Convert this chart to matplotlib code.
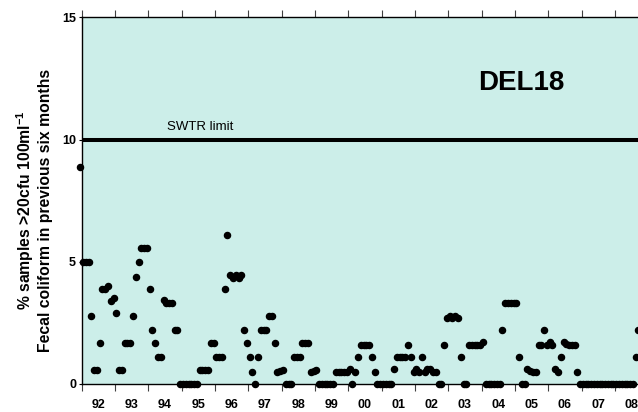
import numpy as np
import pandas as pd
import matplotlib
matplotlib.use('Agg')
import matplotlib.pyplot as plt

plt.rcParams['font.family'] = ['Liberation Sans', 'DejaVu Sans']
plt.rcParams['mathtext.fontset'] = 'custom'
plt.rcParams['mathtext.rm'] = 'Liberation Sans:bold'
plt.rcParams['mathtext.it'] = 'Liberation Sans:bold'
plt.rcParams['mathtext.bf'] = 'Liberation Sans:bold'

# % of samples >20 cfu/100ml over the previous six months, one value per month
first_month = '1991-12'
pct_1991 = [8.89]
pct_1992 = [5.0, 5.0, 5.0, 2.78, 0.56, 0.56, 1.67, 3.89, 3.89, 4.0, 3.4, 3.5]
pct_1993 = [2.89, 0.56, 0.56, 1.67, 1.67, 1.67, 2.78, 4.39, 5.0, 5.56, 5.56, 5.56]
pct_1994 = [3.89, 2.22, 1.67, 1.11, 1.11, 3.43, 3.33, 3.33, 3.33, 2.22, 2.22, 0]
pct_1995 = [0, 0, 0, 0, 0, 0, 0.56, 0.56, 0.56, 0.56, 1.67, 1.67]
pct_1996 = [1.11, 1.11, 1.11, 3.89, 6.11, 4.44, 4.33, 4.44, 4.33, 4.44, 2.22, 1.67]
pct_1997 = [1.11, 0.5, 0, 1.11, 2.22, 2.22, 2.22, 2.78, 2.78, 1.67, 0.49, 0.53]
pct_1998 = [0.57, 0, 0, 0, 1.11, 1.11, 1.11, 1.67, 1.67, 1.67, 0.49, 0.53]
pct_1999 = [0.57, 0, 0, 0, 0, 0, 0, 0.49, 0.49, 0.49, 0.49, 0.49]
pct_2000 = [0.6, 0, 0.49, 1.1, 1.6, 1.6, 1.6, 1.6, 1.1, 0.49, 0, 0]
pct_2001 = [0, 0, 0, 0, 0.6, 1.1, 1.1, 1.1, 1.1, 1.6, 1.1, 0.5]
pct_2002 = [0.6, 0.5, 1.1, 0.5, 0.6, 0.6, 0.5, 0.5, 0, 0, 1.6, 2.7]
pct_2003 = [2.78, 2.7, 2.78, 2.7, 1.1, 0, 0, 1.6, 1.6, 1.6, 1.6, 1.6]
pct_2004 = [1.7, 0, 0, 0, 0, 0, 0, 2.2, 3.3, 3.3, 3.3, 3.3]
pct_2005 = [3.3, 1.1, 0, 0, 0.6, 0.55, 0.5, 0.5, 1.6, 1.6, 2.2, 1.6]
pct_2006 = [1.7, 1.6, 0.6, 0.5, 1.1, 1.7, 1.65, 1.6, 1.6, 1.6, 0.5, 0]
pct_2007 = [0, 0, 0, 0, 0, 0, 0, 0, 0, 0, 0, 0]
pct_2008 = [0, 0, 0, 0, 0, 0, 0, 1.1, 2.2]

years = list(range(1992, 2009))
year_labels = ['%02d' % (y % 100) for y in years]
swtr_limit = 10
site = 'DEL18'

pct = (pct_1991 + pct_1992 + pct_1993 + pct_1994 + pct_1995 + pct_1996 +
       pct_1997 + pct_1998 + pct_1999 + pct_2000 + pct_2001 + pct_2002 +
       pct_2003 + pct_2004 + pct_2005 + pct_2006 + pct_2007 + pct_2008)
dates = pd.date_range(first_month, periods=len(pct), freq='MS')
t = dates.year + (dates.month - 0.5) / 12.0

fig = plt.figure(figsize=(6.38, 4.12), dpi=100)
ax = fig.add_axes([0.128, 0.068, 0.888, 0.890])
ax.set_facecolor('#cceee9')

ax.axhline(swtr_limit, color='k', lw=2.9, zorder=2)
ax.text(1994.55, swtr_limit + 0.5, 'SWTR limit', fontsize=9.5, va='center', ha='left')
ax.plot(t, pct, 'o', color='k', ms=4.4, mec='k', clip_on=False, zorder=3)
ax.text(2005.2, 12.33, site, fontsize=20, fontweight='bold', ha='center', va='center')

ax.set_xlim(1992, 2009)
ax.set_ylim(0, 15)

ax.set_xticks(years + [2009])
ax.set_xticklabels([])
ax.set_xticks(np.array(years) + 0.5, minor=True)
ax.set_xticklabels(year_labels, minor=True, fontsize=9, fontweight='bold')
ax.tick_params(axis='x', which='major', direction='out', length=5, width=0.8,
               top=True, color='0.25')
ax.tick_params(axis='x', which='minor', length=0, pad=11)

ax.set_yticks([0, 5, 10, 15])
ax.set_yticklabels(['0', '5', '10', '15'], fontsize=9, fontweight='bold')
ax.tick_params(axis='y', direction='out', length=2.5, width=0.8, pad=1.5)

for s in ax.spines.values():
    s.set_linewidth(1.0)

fig.text(33.5 / 638, 0.49,
         '% samples >20cfu 100ml$^{-1}$\nFecal coliform in previous six months',
         rotation=90, ha='center', va='center', multialignment='center',
         fontsize=11.3, fontweight='bold', linespacing=1.2)

fig.savefig('out.png', dpi=100)
